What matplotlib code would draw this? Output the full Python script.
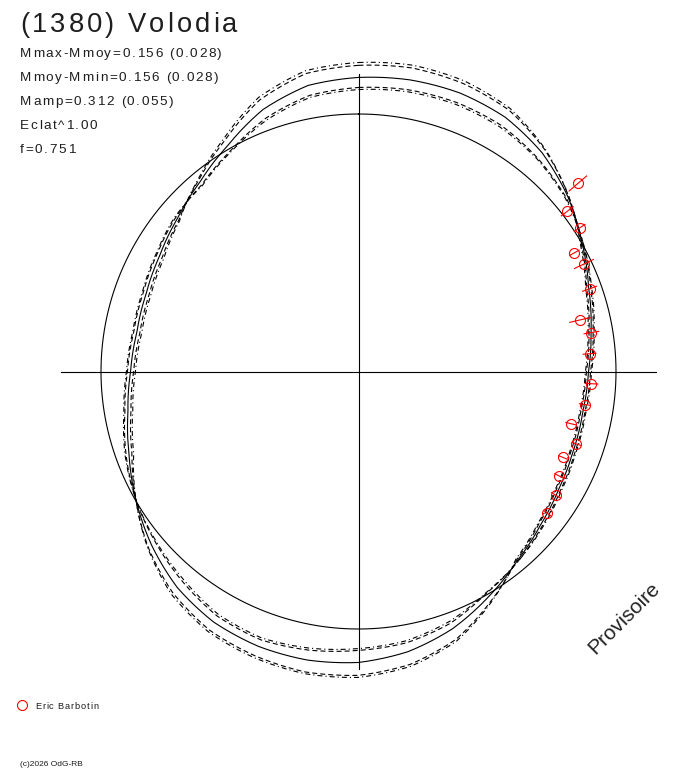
import numpy as np
import matplotlib
matplotlib.use("Agg")
import matplotlib.pyplot as plt
from matplotlib.lines import Line2D
from matplotlib.font_manager import FontProperties, findfont, get_font
try:
    from matplotlib.ft2font import LoadFlags
    NOHINT = LoadFlags.NO_HINTING
except Exception:
    from matplotlib.ft2font import LOAD_NO_HINTING as NOHINT

plt.rcParams['font.family'] = ['Liberation Sans', 'DejaVu Sans']
plt.rcParams['lines.scale_dashes'] = False

# ---------------- data ----------------
title = "(1380) Volodia"
info_lines = ["Mmax-Mmoy=0.156 (0.028)",
              "Mmoy-Mmin=0.156 (0.028)",
              "Mamp=0.312 (0.055)",
              "Eclat^1.00",
              "f=0.751"]
mmax_mmoy = 0.156
observer = "Eric Barbotin"
credit = "(c)2026 OdG-RB"
watermark = "Provisoire"

# rotational phase in degrees (clockwise from top)
phase_deg = list(range(0, 360, 10))

# model radius in percent of the mean level (circle = 100)
model_r = [114.2, 115.0, 115.1, 114.0, 110.9, 106.0, 100.2, 95.1, 91.7, 89.3,
           88.5, 88.9, 90.1, 92.4, 95.9, 101.0, 106.4, 110.5, 113.0, 113.8,
           113.6, 112.4, 109.5, 104.9, 99.8, 94.8, 90.9, 88.5, 87.4, 87.8,
           89.3, 92.0, 95.9, 101.4, 108.3, 112.8]

# deviations of the uncertainty envelopes from the model (percent)
dev_outer_dash = [4.7, 4.7, 3.9, 3.1, 1.6, 0.4, -0.4, -0.8, -0.8, -0.8,
                  -0.8, -0.8, -0.8, -0.8, -0.4, 1.9, 4.3, 5.0, 5.0, 4.7,
                  3.9, 3.5, 2.7, 1.6, 0.0, -1.2, -1.2, -1.2, -1.2, -1.2,
                  -1.2, -0.8, 0.8, 2.3, 3.9, 4.7]
dev_outer_dashdot = [5.8, 5.8, 5.0, 3.9, 1.9, 0.4, -0.8, -1.2, -1.2, -1.2,
                     -1.2, -1.2, -1.2, -1.2, -0.8, 2.3, 5.0, 5.8, 5.8, 5.4,
                     4.7, 4.3, 3.5, 1.9, 0.0, -1.9, -1.9, -1.9, -1.9, -1.9,
                     -1.9, -1.2, 1.2, 3.1, 5.0, 5.8]
dev_inner_dash = [-3.9, -3.9, -3.9, -3.5, -2.7, -0.8, 0.4, 0.8, 0.8, 0.8,
                  0.8, 0.8, 0.8, 0.8, 0.4, -1.6, -2.3, -3.5, -4.7, -3.9,
                  -2.7, -2.7, -3.1, -1.9, 0.0, 1.2, 1.2, 1.2, 1.2, 1.2,
                  1.2, 0.8, -1.2, -2.3, -3.5, -3.9]
dev_inner_dashdot = [-4.7, -4.7, -4.7, -4.3, -3.1, -1.2, 0.4, 1.2, 1.2, 1.2,
                     1.2, 1.2, 1.2, 1.2, 0.4, -1.9, -3.1, -4.3, -5.4, -4.7,
                     -3.5, -3.5, -3.9, -2.3, 0.0, 1.6, 1.6, 1.6, 1.6, 1.6,
                     1.6, 1.2, -1.6, -2.7, -4.3, -4.7]

# observations
obs_deg = [49.4, 52.5, 57.0, 61.2, 64.5, 70.3, 76.9, 80.5, 85.6, 93.0,
           98.3, 103.8, 108.4, 112.8, 117.5, 122.1, 126.9]
obs_r = [112.2, 102.2, 102.4, 95.7, 97.0, 95.3, 88.3, 91.7, 90.0, 90.6,
         88.8, 85.0, 89.2, 86.0, 88.0, 90.6, 91.7]
obs_err = [4.7, 3.1, 2.7, 2.3, 4.3, 3.1, 4.3, 3.1, 2.7, 2.7,
           2.3, 2.3, 1.9, 1.9, 2.3, 2.3, 1.9]

# ---------------- figure ----------------
W, H = 688, 768
DPI = 100
fig = plt.figure(figsize=(W / DPI, H / DPI), dpi=DPI)
fig.patch.set_facecolor('white')

RMAX = 125.0
pix_per_unit = 2.575
rad_px = RMAX * pix_per_unit
cx, cy = 358.5, H - 371.5
ax = fig.add_axes([(cx - rad_px) / W, (cy - rad_px) / H, 2 * rad_px / W, 2 * rad_px / H],
                  projection='polar')
ax.set_theta_zero_location('N')
ax.set_theta_direction(-1)
ax.set_ylim(0, RMAX)
ax.axis('off')

lw = 0.8

def smooth_polar(line, steps=24):
    # let the polar transform draw each segment along arcs
    line.get_path()._interpolation_steps = steps
    return line

# axes cross
L = 100 * 10 ** (0.4 * mmax_mmoy)
for t in (0, 0.5 * np.pi, np.pi, 1.5 * np.pi):
    ax.plot([t, t], [0, L], color='black', lw=lw, clip_on=False)

# mean circle
tc = np.linspace(0, 2 * np.pi, 721)
ax.plot(tc, np.full_like(tc, 100.0), color='black', lw=lw, clip_on=False)

theta = np.deg2rad(np.append(phase_deg, 360))
def closed(a):
    a = np.asarray(a, float)
    return np.append(a, a[0])

m = np.asarray(model_r)
dash = (0, (3.6, 2.2))
dashdot = (0, (3.6, 2.2, 0.8, 2.2))
smooth_polar(ax.plot(theta, closed(m), color='black', lw=lw, clip_on=False)[0])
for dev, ls in ((dev_outer_dash, dash), (dev_outer_dashdot, dashdot),
                (dev_inner_dash, dash), (dev_inner_dashdot, dashdot)):
    smooth_polar(ax.plot(theta, closed(m + np.asarray(dev)), color='black', lw=lw,
                         ls=ls, clip_on=False)[0])

# observations
ax.errorbar(np.deg2rad(obs_deg), obs_r, yerr=obs_err, fmt='o', ms=7.2,
            mfc='none', mec='#ff0000', mew=0.8, ecolor='#ff0000',
            elinewidth=0.8, capsize=0, zorder=5, clip_on=False)

# ---------------- texts ----------------
tc_col = '#1e1e1e'

def advances(s, size, family='Liberation Sans'):
    font = get_font(findfont(FontProperties(family=family)))
    font.set_size(size, 72)
    out = []
    for ch in s:
        g = font.load_char(ord(ch), flags=NOHINT)
        out.append(g.linearHoriAdvance / 65536.0)
    return out

def tracked_text(x_px, y_px, s, size, track_px, color=tc_col):
    adv = advances(s, size)
    x = x_px
    for ch, a in zip(s, adv):
        if ch != ' ':
            fig.text(x / W, 1 - y_px / H, ch, fontsize=size, color=color,
                     va='baseline', ha='left')
        x += a * DPI / 72.0 + track_px

tracked_text(20, 32.3, title, 19.7, 3.0)
for i, s in enumerate(info_lines):
    tracked_text(20, 57.3 + i * 23.85, s, 9.7, 1.6)

fig.text(624 / W, 1 - 618 / H, watermark, fontsize=15, color='#222222', rotation=45,
         ha='center', va='center', rotation_mode='anchor')

fig.add_artist(Line2D([22.3 / W], [1 - 705 / H], marker='o', ms=7.2, mfc='none',
                      mec='#ff0000', mew=0.8, ls='none'))
tracked_text(35, 709, observer, 6.7, 0.8)
fig.text(20 / W, 1 - 766 / H, credit, fontsize=6, color=tc_col, va='baseline', ha='left')

fig.savefig('out.png', dpi=DPI, facecolor='white')
